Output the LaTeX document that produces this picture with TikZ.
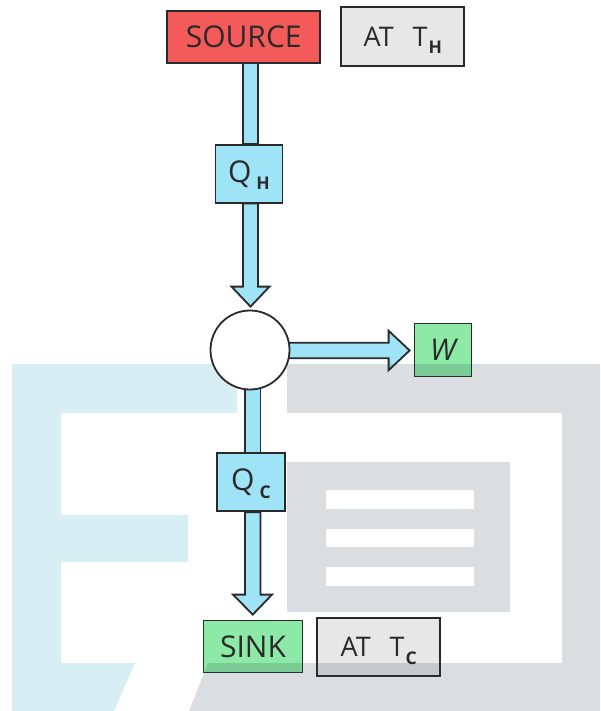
\documentclass[tikz,border=0pt]{standalone}
\usepackage{fontspec}
\setmainfont{Open Sans}
\usetikzlibrary{calc}
\pgfdeclarelayer{pipes}
\pgfdeclarelayer{logo}
\pgfdeclarelayer{front}
\pgfsetlayers{pipes,main,logo,front}

\definecolor{ink}{HTML}{2A2A2A}
\definecolor{hot}{HTML}{F45A5A}
\definecolor{pale}{HTML}{E7E7E7}
\definecolor{flow}{HTML}{9FE3F6}
\definecolor{cool}{HTML}{8DE9A6}
\definecolor{logoblue}{RGB}{20,155,196}
\definecolor{logogrey}{RGB}{37,61,78}

\tikzset{
  box/.style={draw=ink, line width=1.8pt, inner sep=0pt, text=ink,
    font=\fontsize{30}{30}\selectfont},
  tagbox/.style={box, fill=pale, minimum width=123pt, minimum height=58pt,
    font=\fontsize{27}{27}\selectfont},
  pipe/.style={fill=flow, draw=ink, line width=1.8pt, line join=miter},
  disc/.style={circle, draw=ink, fill=white, line width=1.8pt,
    minimum size=79pt, inner sep=0pt},
  logofill/.style={opacity=0.17}
}
\newcommand\lowsub[1]{\raisebox{-7.5pt}[\height][0pt]{\fontsize{17.5}{17.5}\selectfont\bfseries #1}}

\begin{document}
\begin{tikzpicture}[x=1pt,y=-1pt]
\useasboundingbox (0,0) rectangle (600,711);

% engine
\begin{pgfonlayer}{front}
  \node[disc] (eng) at (250,350) {};
\end{pgfonlayer}

% boxes
\node[box, fill=hot, minimum width=153pt, minimum height=52pt] (source) at (243.7,36.7) {SOURCE};
\node[tagbox, minimum height=59pt] (hotT) at (402.8,36.7) {AT\hspace{19pt}T\kern1pt\lowsub{H}};
\node[box, fill=flow, minimum width=67pt, minimum height=58pt] (qh) at (249,173.7) {Q\hspace{5pt}\lowsub{H}};
\node[box, fill=cool, minimum width=57pt, minimum height=53pt] (work) at (443,350) {\itshape W};
\node[box, fill=flow, minimum width=68pt, minimum height=58pt] (qc) at (251,482.3) {Q\hspace{5pt}\lowsub{C}};
\node[box, fill=cool, minimum width=99pt, minimum height=52pt] (sink) at (253,646.5) {SINK};
\node[tagbox] (coldT) at (378.7,647.2) {AT\hspace{19pt}T\kern1pt\lowsub{C}};

% heat flow pipes
\begin{pgfonlayer}{pipes}
  \filldraw[pipe] let \p1=(source.south), \p2=(qh.north) in
    (243pt,\y1) rectangle (258pt,\y2);
  \filldraw[pipe] let \p1=(qh.south), \p2=(eng.north) in
    (243pt,\y1) -- (243pt,\y2+23pt) -- (231.5pt,\y2+23pt) -- (250.5pt,\y2+3pt)
    -- (269.5pt,\y2+23pt) -- (258pt,\y2+23pt) -- (258pt,\y1) -- cycle;
  \filldraw[pipe] let \p1=(eng.center), \p2=(qc.north) in
    (245pt,\y1) rectangle (260.5pt,\y2);
  \filldraw[pipe] let \p1=(qc.south), \p2=(sink.north) in
    (245pt,\y1) -- (245pt,\y2+25pt) -- (233pt,\y2+25pt) -- (252.75pt,\y2+5pt)
    -- (272pt,\y2+25pt) -- (260.5pt,\y2+25pt) -- (260.5pt,\y1) -- cycle;
  \filldraw[pipe] let \p1=(eng.center), \p2=(work.west) in
    (\x1,\y1+7.3pt) -- (\x2-25pt,\y1+7.3pt) -- (\x2-25pt,\y1+19.3pt)
    -- (\x2-4pt,\y1-0.5pt) -- (\x2-25pt,\y1-20.3pt) -- (\x2-25pt,\y1-8.3pt)
    -- (\x1,\y1-8.3pt) -- cycle;
\end{pgfonlayer}

% background logo
\begin{pgfonlayer}{logo}
  \fill[logoblue, logofill] (12,364) -- (237,364) -- (237,413) -- (61,413)
    -- (61,515) -- (188,515) -- (188,562) -- (61,562) -- (61,663)
    -- (135,663) -- (114,711) -- (12,711) -- cycle;
  \fill[logogrey, logofill, even odd rule] (287,364) -- (600,364) -- (600,711)
    -- (189,711) -- (208,663) -- (562,663) -- (562,413) -- (287,413) -- cycle
    (287,462) rectangle (510,612)
    (326,490) rectangle (474,509)
    (326,529) rectangle (474,547)
    (326,567) rectangle (474,586);
\end{pgfonlayer}
\end{tikzpicture}
\end{document}
